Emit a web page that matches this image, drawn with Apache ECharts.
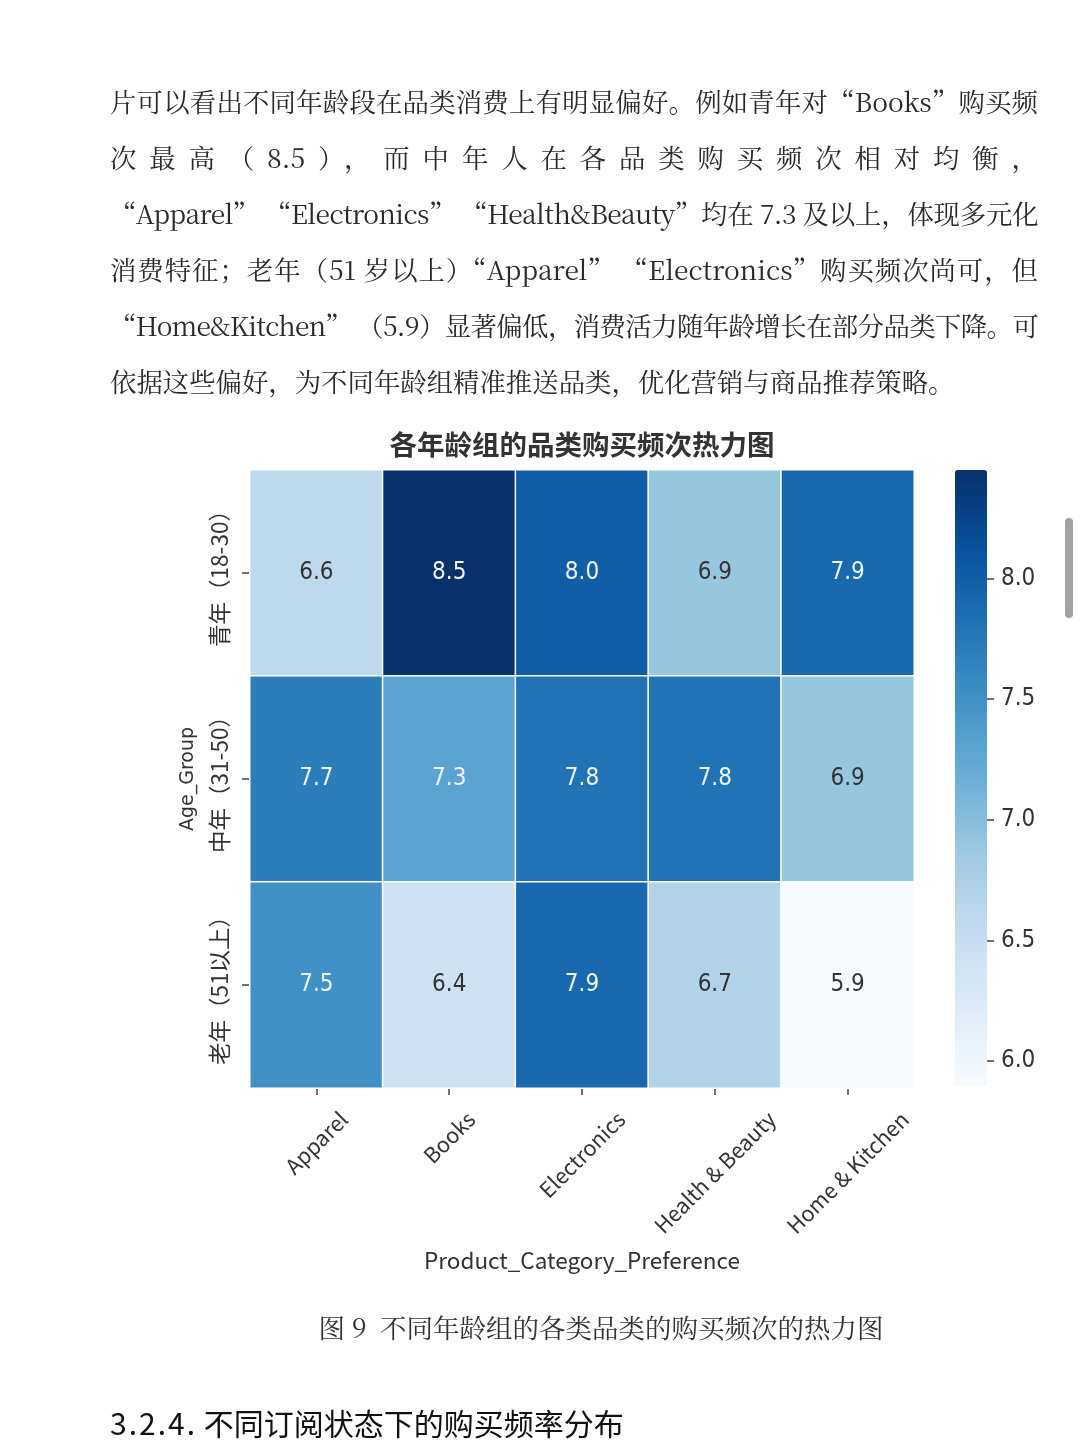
<!DOCTYPE html>
<html lang="zh-CN">
<head>
<meta charset="utf-8">
<script src="https://cdn.jsdelivr.net/npm/echarts@6/dist/echarts.min.js"></script>
<style>
html,body{margin:0;padding:0;background:#fff;}
body{width:1080px;height:1440px;overflow:hidden;position:relative;}
#chart{position:absolute;left:0;top:0;width:1080px;height:1440px;}
.doc{position:absolute;left:110px;top:73px;width:928px;font-family:"Noto Serif CJK SC","Noto Sans CJK SC",sans-serif;font-size:26.4px;color:#2a2a2a;}
.line{height:56px;line-height:56px;text-align:justify;text-align-last:justify;overflow:hidden;}
.line.last{text-align:left;text-align-last:left;}
.caption{position:absolute;left:300px;width:602px;top:1308px;text-align:center;font-family:"Noto Serif CJK SC","Noto Sans CJK SC",sans-serif;font-size:26.5px;line-height:38px;color:#333;white-space:nowrap;}
.heading{position:absolute;left:110px;top:1401px;font-family:"Noto Sans CJK SC",sans-serif;font-size:30px;line-height:42px;color:#111;white-space:nowrap;}
.heading .num{letter-spacing:2px;}
.scroll{position:absolute;left:1065px;top:518px;width:8px;height:100px;border-radius:4px;background:#a3a3a3;}
</style>
</head>
<body>
<div id="chart"></div>
<div class="doc">
  <div class="line">片可以看出不同年龄段在品类消费上有明显偏好。例如青年对“Books”购买频</div>
  <div class="line">次最高（8.5），而中年人在各品类购买频次相对均衡，</div>
  <div class="line">“Apparel” “Electronics” “Health&amp;Beauty”均在 7.3 及以上，体现多元化</div>
  <div class="line">消费特征；老年（51 岁以上）“Apparel” “Electronics”购买频次尚可，但</div>
  <div class="line">“Home&amp;Kitchen” （5.9）显著偏低，消费活力随年龄增长在部分品类下降。可</div>
  <div class="line last">依据这些偏好，为不同年龄组精准推送品类，优化营销与商品推荐策略。</div>
</div>
<div class="caption">图 9&nbsp; 不同年龄组的各类品类的购买频次的热力图</div>
<div class="heading"><span class="num">3.2.4.</span> 不同订阅状态下的购买频率分布</div>
<div class="scroll"></div>
<script>
// ---- data ----
const categories = ['Apparel', 'Books', 'Electronics', 'Health & Beauty', 'Home & Kitchen'];
const ageGroups = ['青年（18-30）', '中年（31-50）', '老年（51以上）'];
const youngValues = [6.6, 8.5, 8.0, 6.9, 7.9];
const middleValues = [7.7, 7.3, 7.8, 7.8, 6.9];
const seniorValues = [7.5, 6.4, 7.9, 6.7, 5.9];
const colorbarTicks = [6.0, 6.5, 7.0, 7.5, 8.0];
const colorMin = 5.9;
const colorMax = 8.45;

// ---- fit document lines (avoid wrapping) ----
document.querySelectorAll('.doc .line').forEach(el => {
  let ls = 0;
  while (el.scrollHeight > 60 && ls > -4) { ls -= 0.2; el.style.letterSpacing = ls + 'px'; }
});

const rows = [youngValues, middleValues, seniorValues];
const blues = ['#f7fbff', '#deebf7', '#c6dbef', '#9ecae1', '#6baed6', '#4292c6', '#2171b5', '#08519c', '#08306b'];
const labelFont = '"Noto Sans CJK SC", sans-serif';
const numFont = '"Liberation Sans Narrow", "DejaVu Sans Condensed", "Noto Sans CJK SC", sans-serif';
const xLabelSize = 21.5;
const xLabelLH = 21;

// centre each rotated x label under its tick (matplotlib style)
const ctx = document.createElement('canvas').getContext('2d');
ctx.font = xLabelSize + 'px ' + labelFont;
const xData = categories.map(c => {
  const w = ctx.measureText(c).width;
  const q = (w + xLabelLH) / 2;
  const p = Math.max(0, (w - xLabelLH) / 4);
  return { value: c, textStyle: { align: 'center', verticalAlign: 'top', padding: [p, q, 0, 0], lineHeight: xLabelLH } };
});

const heatData = [];
rows.forEach((vals, yi) => vals.forEach((v, xi) => {
  heatData.push({ value: [xi, yi, v], label: { color: v > 7.1 ? '#eef4fb' : '#333333' } });
}));

const chart = echarts.init(document.getElementById('chart'));
chart.setOption({
  animation: false,
  graphic: [{
    type: 'text', x: 582, y: 445,
    style: { text: '各年龄组的品类购买频次热力图', fontSize: 27.5, fontWeight: 'bold', fill: '#333', align: 'center', verticalAlign: 'middle', fontFamily: labelFont }
  }],
  grid: [
    { left: 250, top: 470, width: 664, height: 618, outerBoundsMode: 'none' },
    { left: 955, top: 470, width: 32, height: 615, outerBoundsMode: 'none' }
  ],
  xAxis: [{
    type: 'category', gridIndex: 0, data: xData,
    axisLine: { show: false },
    axisTick: { show: true, alignWithLabel: true, length: 7, lineStyle: { color: '#444', width: 1.5 } },
    axisLabel: { rotate: 45, margin: 20, interval: 0, hideOverlap: false, fontSize: xLabelSize, color: '#333', fontFamily: labelFont },
    splitLine: { show: false },
    name: 'Product_Category_Preference', nameLocation: 'middle', nameGap: 161, nameMoveOverlap: false,
    nameTextStyle: { fontSize: 22.5, color: '#333', fontFamily: labelFont }
  }, {
    type: 'category', gridIndex: 1, show: false, data: ['']
  }],
  yAxis: [{
    type: 'category', gridIndex: 0, data: ageGroups, inverse: true,
    axisLine: { show: false },
    axisTick: { show: true, alignWithLabel: true, interval: 0, length: 8, lineStyle: { color: '#444', width: 1.5 } },
    axisLabel: { rotate: 90, margin: 19, interval: 0, hideOverlap: false, fontSize: 22.5, color: '#333', fontFamily: labelFont },
    splitLine: { show: false },
    name: 'Age_Group', nameLocation: 'middle', nameGap: 52, nameRotate: 90, nameMoveOverlap: false,
    nameTextStyle: { fontSize: 19, color: '#333', fontFamily: '"DejaVu Sans", sans-serif' }
  }, {
    type: 'value', gridIndex: 1, position: 'right', min: colorMin, max: colorMax,
    axisLine: { show: true, onZero: false, lineStyle: { color: 'rgba(0,0,0,0)', width: 0 } },
    splitLine: { show: false },
    axisTick: { show: true, inside: false, length: 7, customValues: colorbarTicks, lineStyle: { color: '#444', width: 1.5 } },
    axisLabel: { show: true, customValues: colorbarTicks, formatter: v => Number(v).toFixed(1), margin: 14, fontSize: 24, color: '#333', fontFamily: numFont }
  }],
  visualMap: {
    type: 'continuous', seriesIndex: 0, min: colorMin, max: colorMax,
    calculable: false, hoverLink: false, orient: 'vertical',
    left: 955, top: 470, itemWidth: 32, itemHeight: 615, padding: 0, text: null,
    inRange: { color: blues }
  },
  series: [{
    type: 'heatmap', xAxisIndex: 0, yAxisIndex: 0, data: heatData,
    label: { show: true, formatter: p => p.value[2].toFixed(1), fontSize: 24, fontFamily: numFont },
    itemStyle: { borderColor: '#ffffff', borderWidth: 1.5 },
    emphasis: { disabled: true }
  }]
});
</script>
</body>
</html>
